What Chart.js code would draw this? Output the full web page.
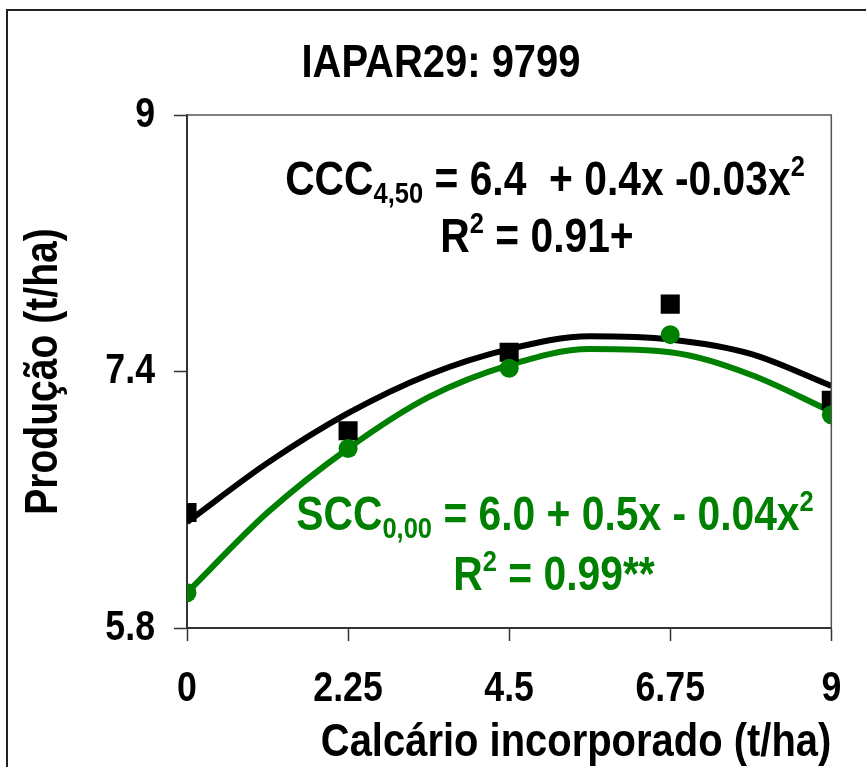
<!DOCTYPE html>
<html>
<head>
<meta charset="utf-8">
<script src="https://cdn.jsdelivr.net/npm/chart.js@4/dist/chart.umd.min.js"></script>
<style>
  html, body { margin: 0; padding: 0; background: #fff; }
  #wrap { width: 866px; height: 767px; }
</style>
</head>
<body>
<div id="wrap"><canvas id="chart" width="866" height="767"></canvas></div>
<script>
// observed means (t/ha)
const doses = [0, 2.25, 4.5, 6.75, 9];
const cccObserved = [6.52, 7.03, 7.52, 7.82, 7.22];
const sccObserved = [6.02, 6.92, 7.42, 7.63, 7.13];

// fitted curves
const fitDoses = [0, 1.125, 2.25, 3.375, 4.5, 5.625, 6.75, 7.875, 9];
const cccFitted = [6.46, 6.83, 7.14, 7.38, 7.54, 7.62, 7.60, 7.51, 7.31];
const sccFitted = [6.02, 6.52, 6.92, 7.24, 7.44, 7.54, 7.52, 7.38, 7.15];

// axes
const xTicks = [0, 2.25, 4.5, 6.75, 9];
const yTicks = [5.8, 7.4, 9];

const FONT = '"Liberation Sans", Arial, sans-serif';
const GREEN = '#008000';
const SQUEEZE = 0.85; // the original uses a narrow bold face

function pts(xs, ys) {
    return xs.map((x, i) => ({ x: x, y: ys[i] }));
}

// equation labels: pieces of text, sub/sup flagged
const annotations = [
    { x: 545, y: 195, color: '#000', parts: [['CCC'], ['4,50', 'sub'], [' = 6.4  + 0.4x -0.03x'], ['2', 'sup']] },
    { x: 537, y: 252, color: '#000', parts: [['R'], ['2', 'sup'], [' = 0.91+']] },
    { x: 555, y: 530, color: GREEN, parts: [['SCC'], ['0,00', 'sub'], [' = 6.0 + 0.5x - 0.04x'], ['2', 'sup']] },
    { x: 554, y: 590, color: GREEN, parts: [['R'], ['2', 'sup'], [' = 0.99**']] }
];

const decor = {
    id: 'decor',
    beforeDraw(chart) {
        const ctx = chart.ctx;
        ctx.save();
        ctx.fillStyle = '#fff';
        ctx.fillRect(0, 0, chart.width, chart.height);
        // outer frame (left + top)
        ctx.strokeStyle = '#222';
        ctx.lineWidth = 2;
        ctx.beginPath();
        ctx.moveTo(7, chart.height);
        ctx.lineTo(7, 10);
        ctx.lineTo(chart.width, 10);
        ctx.stroke();
        ctx.restore();
    },
    afterDraw(chart) {
        const ctx = chart.ctx;
        const a = chart.chartArea;
        ctx.save();
        // plot frame top + right
        ctx.strokeStyle = '#555';
        ctx.lineWidth = 1.5;
        ctx.beginPath();
        ctx.moveTo(a.left, a.top);
        ctx.lineTo(a.right, a.top);
        ctx.lineTo(a.right, a.bottom);
        ctx.stroke();

        // title
        ctx.fillStyle = '#000';
        ctx.font = 'bold 47px ' + FONT;
        ctx.textAlign = 'center';
        ctx.textBaseline = 'alphabetic';
        ctx.fillText('IAPAR29: 9799', 441, 77);

        // equations
        ctx.textAlign = 'left';
        annotations.forEach(function(an) {
            const big = 'bold 48px ' + FONT;
            const small = 'bold 30px ' + FONT;
            let total = 0;
            an.parts.forEach(function(p) {
                ctx.font = p[1] ? small : big;
                total += ctx.measureText(p[0]).width * SQUEEZE;
            });
            let x = an.x - total / 2;
            ctx.fillStyle = an.color;
            an.parts.forEach(function(p) {
                ctx.font = p[1] ? small : big;
                let y = an.y;
                if (p[1] === 'sub') y += 8;
                if (p[1] === 'sup') y -= 19;
                ctx.fillText(p[0], x, y);
                x += ctx.measureText(p[0]).width * SQUEEZE;
            });
        });
        ctx.restore();
    }
};

const ctx = document.getElementById('chart').getContext('2d');

// squeeze every text draw horizontally
const plainFillText = ctx.fillText;
ctx.fillText = function(text, x, y, maxWidth) {
    const w = this.measureText(text).width * SQUEEZE;
    const mw = maxWidth !== undefined ? Math.min(maxWidth, w) : w;
    return plainFillText.call(this, text, x, y, mw);
};

new Chart(ctx, {
    type: 'scatter',
    data: {
        datasets: [{
            label: 'CCC ajuste',
            data: pts(fitDoses, cccFitted),
            showLine: true,
            borderColor: '#000',
            borderWidth: 6,
            pointRadius: 0,
            cubicInterpolationMode: 'monotone',
            order: 4
        }, {
            label: 'SCC ajuste',
            data: pts(fitDoses, sccFitted),
            showLine: true,
            borderColor: GREEN,
            borderWidth: 6,
            pointRadius: 0,
            cubicInterpolationMode: 'monotone',
            order: 3
        }, {
            label: 'CCC',
            data: pts(doses, cccObserved),
            pointStyle: 'rect',
            pointRadius: 13.5,
            backgroundColor: '#000',
            borderColor: '#000',
            borderWidth: 0,
            order: 2
        }, {
            label: 'SCC',
            data: pts(doses, sccObserved),
            pointStyle: 'circle',
            pointRadius: 9.5,
            backgroundColor: GREEN,
            borderColor: GREEN,
            borderWidth: 0,
            order: 1
        }]
    },
    options: {
        responsive: false,
        animation: false,
        layout: { padding: { left: 0, top: 115, right: 34, bottom: 0 } },
        plugins: {
            legend: { display: false },
            tooltip: { enabled: false }
        },
        scales: {
            x: {
                type: 'linear',
                min: 0,
                max: 9,
                afterBuildTicks: function(scale) {
                    scale.ticks = xTicks.map(v => ({ value: v }));
                },
                afterFit: function(scale) { scale.height = 139; },
                ticks: {
                    color: '#000',
                    font: { family: FONT, size: 42, weight: 'bold' },
                    padding: 23,
                    maxRotation: 0,
                    callback: v => String(v)
                },
                grid: { drawOnChartArea: false, tickLength: 13, tickColor: '#333', tickWidth: 1.5 },
                border: { color: '#333', width: 2 },
                title: {
                    display: true,
                    text: 'Calcário incorporado (t/ha)',
                    align: 'end',
                    color: '#000',
                    font: { family: FONT, size: 47, weight: 'bold' },
                    padding: { top: 0, bottom: -4 }
                }
            },
            y: {
                type: 'linear',
                min: 5.8,
                max: 9,
                afterBuildTicks: function(scale) {
                    scale.ticks = yTicks.map(v => ({ value: v }));
                },
                afterFit: function(scale) { scale.width = 187; },
                ticks: {
                    color: '#000',
                    font: { family: FONT, size: 42, weight: 'bold' },
                    padding: 19,
                    callback: v => String(v)
                },
                grid: { drawOnChartArea: false, tickLength: 13, tickColor: '#333', tickWidth: 1.5 },
                border: { color: '#333', width: 2 },
                title: {
                    display: true,
                    text: 'Produção (t/ha)',
                    color: '#000',
                    font: { family: FONT, size: 46, weight: 'bold' },
                    padding: 17
                }
            }
        }
    },
    plugins: [decor]
});
</script>
</body>
</html>
